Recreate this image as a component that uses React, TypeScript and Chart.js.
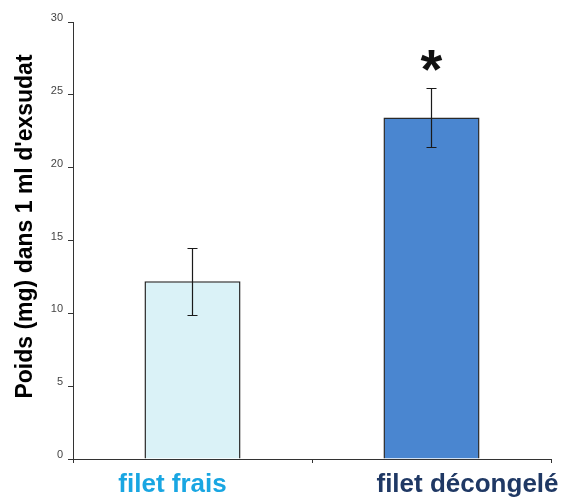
import React, { useEffect, useRef } from "react";
import { Chart, registerables } from "chart.js";

Chart.register(...registerables);

const categories = ["filet frais", "filet décongelé"];
const means = [12.2, 23.45];
const errors = [2.3, 2.05];
const significance = ["", "*"];
const barColors = ["#daf2f7", "#4a86d0"];
const labelColors = ["#19a6e2", "#1f3864"];
const labelShift = [-20, 36];
const yTitle = "Poids (mg) dans 1 ml d'exsudat";
const yMin = 0;
const yMax = 30;
const yStep = 5;

const overlay = {
  id: "overlay",
  afterDatasetsDraw(chart: any) {
    const { ctx } = chart;
    const xs = chart.scales.x;
    const ys = chart.scales.y;
    ctx.save();
    // error bars
    ctx.strokeStyle = "#1a1a1a";
    ctx.lineWidth = 1.2;
    means.forEach((m, i) => {
      const x = Math.round(xs.getPixelForValue(i)) - 0.5;
      const yt = Math.round(ys.getPixelForValue(m + errors[i])) + 0.5;
      const yb = Math.round(ys.getPixelForValue(m - errors[i])) + 0.5;
      ctx.beginPath();
      ctx.moveTo(x, yt);
      ctx.lineTo(x, yb);
      ctx.moveTo(x - 5, yt);
      ctx.lineTo(x + 5, yt);
      ctx.moveTo(x - 5, yb);
      ctx.lineTo(x + 5, yb);
      ctx.stroke();
      if (significance[i]) {
        ctx.fillStyle = "#111";
        ctx.font = "bold 56px 'Liberation Sans', Arial, sans-serif";
        ctx.textAlign = "center";
        ctx.textBaseline = "alphabetic";
        ctx.fillText(significance[i], x, yt - 1);
      }
    });
    // category labels
    ctx.font = "bold 26px 'Liberation Sans', Arial, sans-serif";
    ctx.textAlign = "center";
    ctx.textBaseline = "alphabetic";
    categories.forEach((c, i) => {
      ctx.fillStyle = labelColors[i];
      ctx.fillText(c, xs.getPixelForValue(i) + labelShift[i], xs.bottom - 8);
    });
    // y title
    ctx.translate(26, (ys.top + ys.bottom) / 2 - 14);
    ctx.rotate(-Math.PI / 2);
    ctx.fillStyle = "#000";
    ctx.font = "bold 23px 'Liberation Sans', Arial, sans-serif";
    ctx.textAlign = "center";
    ctx.textBaseline = "middle";
    ctx.fillText(yTitle, 0, 0);
    ctx.restore();
  },
};

export default function App() {
  const ref = useRef<HTMLCanvasElement>(null);
  useEffect(() => {
    document.body.style.margin = "0";
    const chart = new Chart(ref.current!, {
      type: "bar",
      data: {
        labels: categories,
        datasets: [
          {
            data: means,
            backgroundColor: barColors,
            borderColor: "#2a2a2a",
            borderWidth: 1.5,
            categoryPercentage: 1,
            barPercentage: 0.402,
          },
        ],
      },
      options: {
        animation: false,
        responsive: false,
        layout: { padding: { left: 0, right: 11, top: 22, bottom: 0 } },
        plugins: { legend: { display: false }, tooltip: { enabled: false } },
        scales: {
          x: {
            grid: {
              offset: true,
              drawOnChartArea: false,
              drawTicks: true,
              tickLength: 4,
              color: "#333",
            },
            border: { display: true, color: "#333", width: 1 },
            ticks: { display: false },
            afterFit: (s: any) => {
              s.height = 41;
            },
          },
          y: {
            min: yMin,
            max: yMax,
            grid: {
              drawOnChartArea: false,
              drawTicks: true,
              tickLength: 5,
              color: "#333",
            },
            border: { display: true, color: "#333", width: 1 },
            ticks: {
              stepSize: yStep,
              padding: 5,
              labelOffset: -4,
              color: "#444",
              font: { size: 11, family: "'Liberation Sans', Arial, sans-serif" },
            },
            afterFit: (s: any) => {
              s.width = 73;
            },
          },
        },
      },
      plugins: [overlay],
    });
    return () => chart.destroy();
  }, []);
  return <canvas ref={ref} width={562} height={500} style={{ display: "block" }} />;
}
